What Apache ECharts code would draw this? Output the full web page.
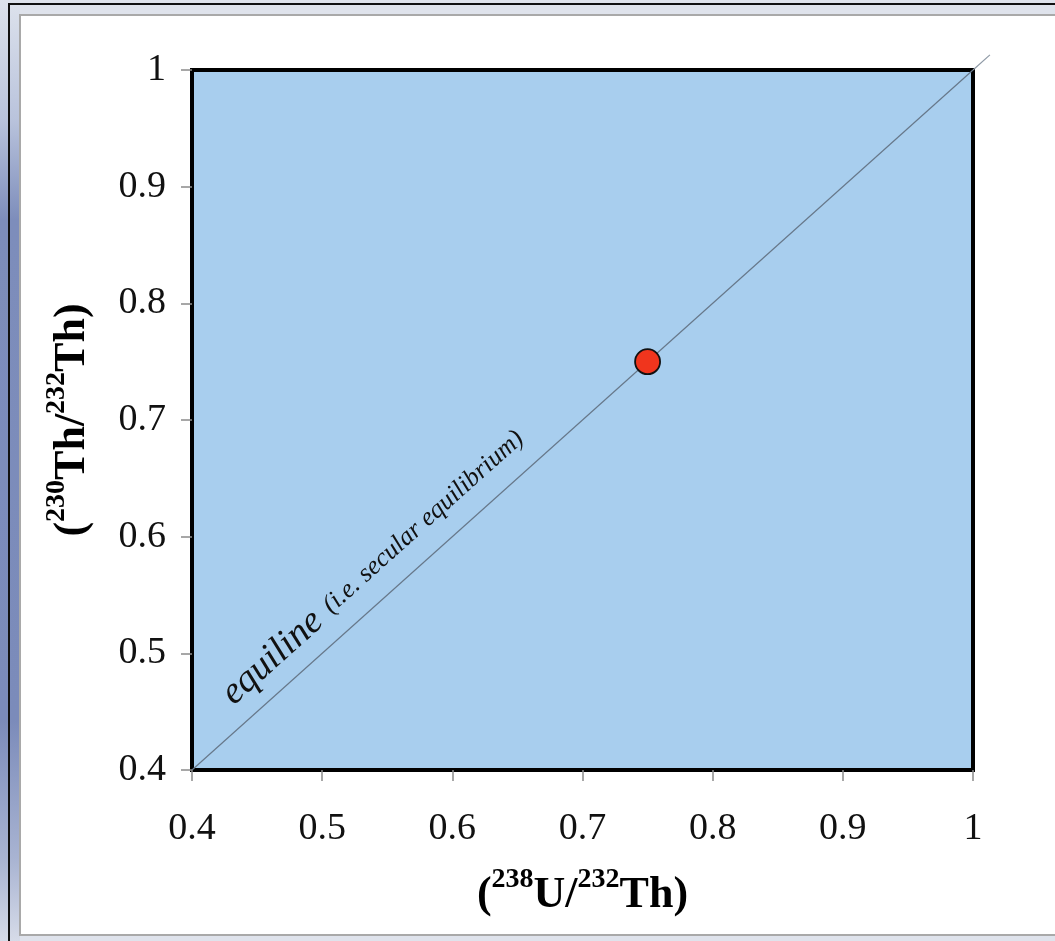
<!DOCTYPE html>
<html>
<head>
<meta charset="utf-8">
<script src="https://cdn.jsdelivr.net/npm/echarts@6/dist/echarts.min.js"></script>
<style>
html,body{margin:0;padding:0;width:1055px;height:941px;overflow:hidden;background:#dfe3ec;}
#strip{position:absolute;left:0;top:0;width:20px;height:941px;background:linear-gradient(to bottom,#dde2ec 0px,#b9c3dc 120px,#7d8dbb 220px,#7b8bba 720px,#a9b4d2 860px,#d6dbe8 941px);}
#vline{position:absolute;left:8px;top:3px;width:2px;height:938px;background:#111;}
#hline{position:absolute;left:8px;top:3px;width:1047px;height:2px;background:#111;}
#card{position:absolute;left:19px;top:14px;width:1050px;height:918px;background:#fff;border:2px solid #a9a9a9;}
#chart{position:absolute;left:0;top:0;width:1055px;height:941px;}
</style>
</head>
<body>
<div id="strip"></div>
<div id="vline"></div>
<div id="hline"></div>
<div id="card"></div>
<div id="chart"></div>
<script>
// ---- data ----
const xTicks = [0.4, 0.5, 0.6, 0.7, 0.8, 0.9, 1];
const yTicks = [0.4, 0.5, 0.6, 0.7, 0.8, 0.9, 1];
const samplePoint = [[0.75, 0.75]];           // (238U/232Th), (230Th/232Th)
const equiline = [[0.4, 0.4], [1, 1]];
const equilineOvershoot = [[1, 1], [1.013, 1.013]]; // the line runs slightly past the frame
const xName = '{p|(}{s|238}{p|U/}{s|232}{p|Th)}';
const yName = '{p|(}{s|230}{p|Th/}{s|232}{p|Th)}';
const equilineLabel = '{a|equiline} {b|(i.e. secular equilibrium)}';

const serif = 'Liberation Serif, Times New Roman, serif';
const lineColor = '#67788a';
const nameRich = {
  p: {fontFamily: serif, fontWeight: 'bold', fontSize: 44, color: '#000', lineHeight: 52, verticalAlign: 'bottom'},
  s: {fontFamily: serif, fontWeight: 'bold', fontSize: 28, color: '#000', lineHeight: 52, verticalAlign: 'top'}
};

const chart = echarts.init(document.getElementById('chart'), null, {renderer: 'canvas'});
chart.setOption({
  backgroundColor: 'transparent',
  animation: false,
  grid: {
    left: 192, top: 70, width: 781, height: 700,
    show: true, backgroundColor: '#a8ceee', borderColor: '#000', borderWidth: 4
  },
  xAxis: {
    type: 'value', min: xTicks[0], max: xTicks[xTicks.length - 1], interval: 0.1,
    axisLine: {show: false},
    axisTick: {show: true, length: 11, lineStyle: {color: '#8a8a8a', width: 1.5}},
    splitLine: {show: false},
    axisLabel: {margin: 40, fontFamily: serif, fontSize: 38, color: '#111',
      formatter: v => String(+v.toFixed(1))},
    name: xName, nameLocation: 'middle', nameGap: 96,
    nameTextStyle: {rich: nameRich}
  },
  yAxis: {
    type: 'value', min: yTicks[0], max: yTicks[yTicks.length - 1], interval: 0.1,
    axisLine: {show: false},
    axisTick: {show: true, length: 11, lineStyle: {color: '#8a8a8a', width: 1.5}},
    splitLine: {show: false},
    axisLabel: {margin: 26, fontFamily: serif, fontSize: 38, color: '#111',
      formatter: v => String(+v.toFixed(1))},
    name: yName, nameLocation: 'middle', nameGap: 97,
    nameTextStyle: {rich: nameRich}
  },
  series: [{
    type: 'line',
    data: equiline,
    symbol: 'none',
    silent: true,
    z: 3,
    lineStyle: {color: lineColor, width: 1.2},
    markLine: {
      silent: true,
      symbol: ['none', 'none'],
      lineStyle: {color: 'rgba(0,0,0,0)', width: 0},
      label: {
        show: true,
        opacity: 1,
        position: 'insideStartTop',
        distance: [74, 11],
        formatter: equilineLabel,
        rich: {
          a: {fontFamily: serif, fontStyle: 'italic', fontSize: 38, color: '#111', padding: [0, 8, 0, 0]},
          b: {fontFamily: serif, fontStyle: 'italic', fontSize: 26, color: '#111'}
        }
      },
      data: [[{coord: equiline[0]}, {coord: equiline[1]}]]
    }
  }, {
    type: 'scatter',
    data: samplePoint,
    symbolSize: 25,
    z: 5,
    itemStyle: {color: '#f0351d', opacity: 1, borderColor: '#111', borderWidth: 1.8}
  }]
});

// overshoot of the equiline beyond the frame, positioned through the axes
const p0 = chart.convertToPixel({gridIndex: 0}, equilineOvershoot[0]);
const p1 = chart.convertToPixel({gridIndex: 0}, equilineOvershoot[1]);
chart.setOption({
  graphic: [{
    type: 'line', silent: true, z: 10,
    shape: {x1: p0[0], y1: p0[1], x2: p1[0], y2: p1[1]},
    style: {stroke: '#8f9aa6', lineWidth: 1.2}
  }]
});
</script>
</body>
</html>
